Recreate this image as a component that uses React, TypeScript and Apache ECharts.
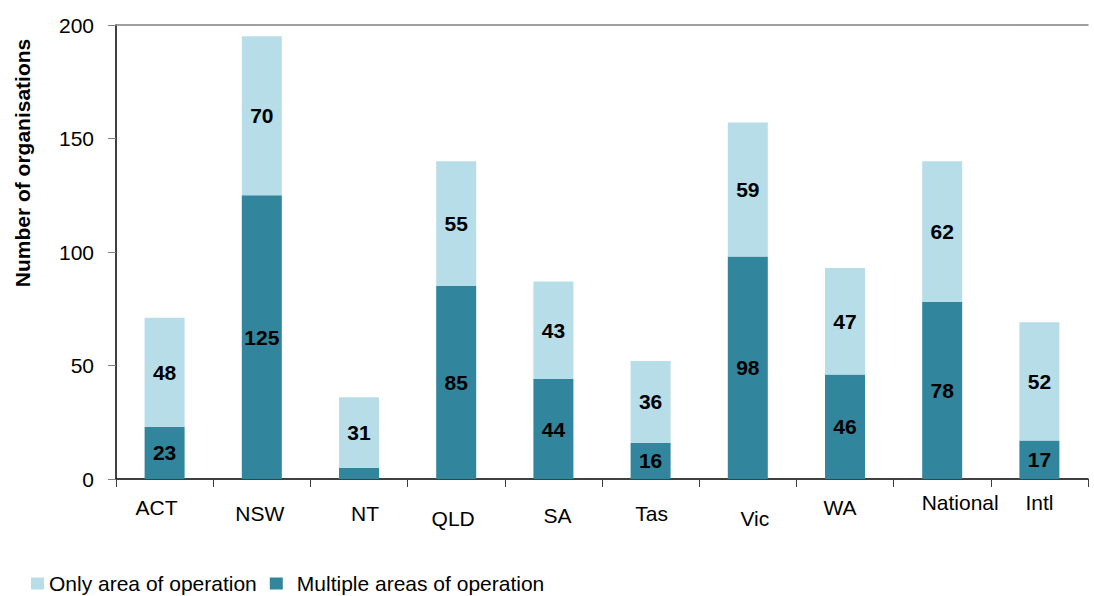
import React, { useEffect, useRef } from "react";
import * as echarts from "echarts";

const categories = ["ACT", "NSW", "NT", "QLD", "SA", "Tas", "Vic", "WA", "National", "Intl"];
const multipleAreas = [23, 125, 5, 85, 44, 16, 98, 46, 78, 17];
const onlyArea = [48, 70, 31, 55, 43, 36, 59, 47, 62, 52];
const yTicks = { min: 0, max: 200, interval: 50 };
const legendNames = ["Only area of operation", "Multiple areas of operation"];

// per-label nudges (style only) to mimic the staggered category labels
const labelDy = [5, 11, 11, 16, 13, 11, 16, 5, 0, 0];
const labelDx = [-8, -2, 6, -3, 4, 1, 7, -5, 18, 0];

const DARK = "#31859C";
const LIGHT = "#B7DDE8";
const FONT = "Liberation Sans, Arial, sans-serif";

export default function App() {
  const ref = useRef<HTMLDivElement>(null);
  useEffect(() => {
    if (!ref.current) return;
    const chart = echarts.init(ref.current, undefined, { renderer: "svg" });
    const rich: Record<string, any> = {};
    categories.forEach((_, i) => {
      const dx = labelDx[i];
      rich["l" + i] = {
        fontSize: 21,
        fontFamily: FONT,
        color: "#000",
        padding: [labelDy[i], dx < 0 ? -2 * dx : 0, 0, dx > 0 ? 2 * dx : 0],
      };
    });
    const labelStyle = {
      show: true,
      position: "inside",
      fontSize: 21,
      fontWeight: "bold",
      fontFamily: FONT,
      color: "#000",
      formatter: (p: any) => (p.value < 10 ? "" : String(p.value)),
    };
    chart.setOption({
      animation: false,
      textStyle: { fontFamily: FONT },
      grid: { left: 116, right: 6, top: 25, bottom: 117, containLabel: false },
      legend: {
        data: legendNames,
        left: 26,
        top: 568,
        icon: "rect",
        itemWidth: 13,
        itemHeight: 12,
        itemGap: 13,
        formatter: (name: string) => (name === legendNames[1] ? `{b|${name}}` : `{a|${name}}`),
        textStyle: {
          fontSize: 21,
          fontFamily: FONT,
          color: "#000",
          rich: {
            a: { fontSize: 21, fontFamily: FONT, color: "#000" },
            b: { fontSize: 21, fontFamily: FONT, color: "#000", padding: [0, 0, 0, 9] },
          },
        },
      },
      graphic: [
        {
          type: "text",
          x: 22,
          y: 163,
          rotation: Math.PI / 2,
          style: {
            text: "Number of organisations",
            fontSize: 21,
            fontWeight: "bold",
            fontFamily: FONT,
            fill: "#000",
            align: "center",
            verticalAlign: "middle",
          },
        },
      ],
      xAxis: [
        {
          type: "category",
          data: categories,
          position: "bottom",
          axisLine: { lineStyle: { color: "#000", width: 1.5 } },
          axisTick: { show: true, length: 8, lineStyle: { color: "#404040" } },
          axisLabel: {
            margin: 13,
            verticalAlign: "top",
            interval: 0,
            formatter: (v: string, i: number) => `{l${i}|${v}}`,
            rich,
          },
        },
        {
          type: "category",
          data: categories,
          position: "top",
          axisLine: { show: true, lineStyle: { color: "#808080", width: 1.5 } },
          axisTick: { show: false },
          axisLabel: { show: false },
        },
      ],
      yAxis: {
        type: "value",
        min: yTicks.min,
        max: yTicks.max,
        interval: yTicks.interval,
        axisLine: { show: true, lineStyle: { color: "#000", width: 1.5 } },
        axisTick: { show: true, length: 8, lineStyle: { color: "#808080" } },
        axisLabel: { fontSize: 21, fontFamily: FONT, color: "#000", margin: 22 },
        splitLine: { show: false },
      },
      series: [
        {
          name: legendNames[1],
          type: "bar",
          stack: "total",
          data: multipleAreas,
          barWidth: 40,
          itemStyle: { color: DARK },
          label: labelStyle,
        },
        {
          name: legendNames[0],
          type: "bar",
          stack: "total",
          data: onlyArea,
          barWidth: 40,
          itemStyle: { color: LIGHT },
          label: labelStyle,
        },
      ],
    });
    return () => chart.dispose();
  }, []);
  return (
    <div
      ref={ref}
      style={{ position: "fixed", left: 0, top: 0, width: 1094, height: 596, background: "#fff" }}
    />
  );
}
